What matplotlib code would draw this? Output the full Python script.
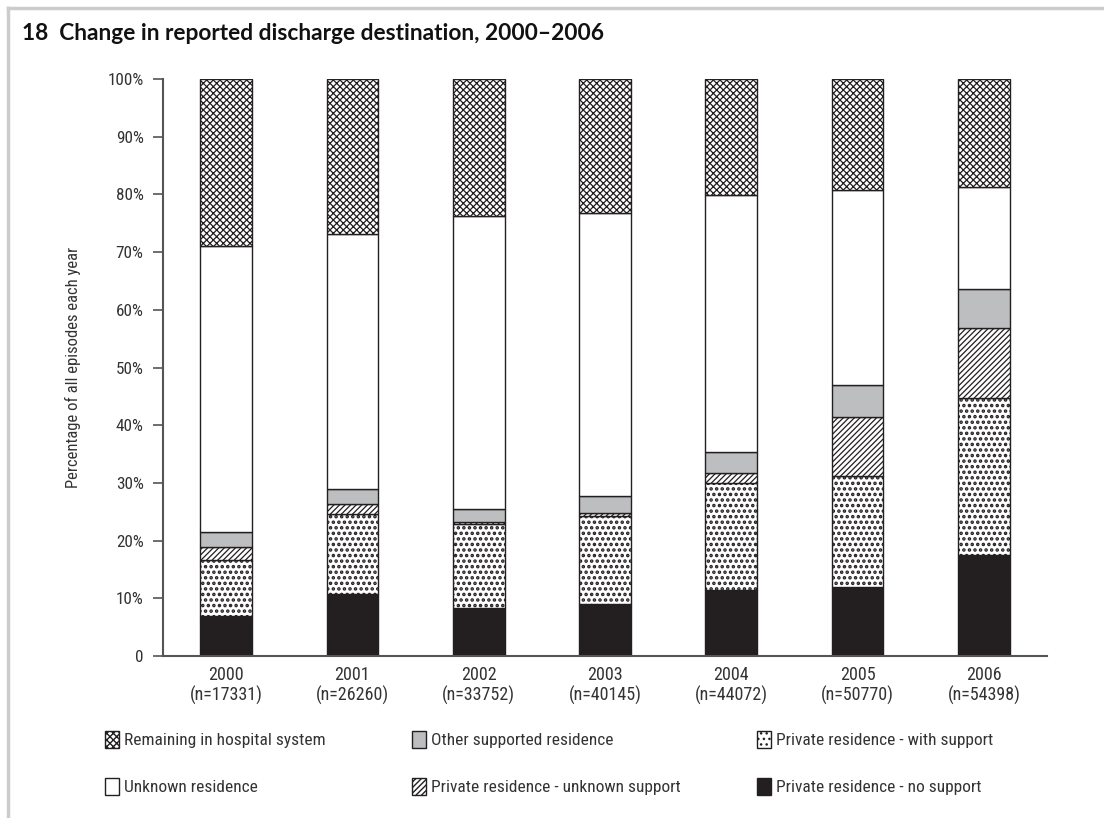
import numpy as np
import matplotlib
matplotlib.use("Agg")
import matplotlib.pyplot as plt
from matplotlib.lines import Line2D

# Data (percent of episodes)
years = ['2000', '2001', '2002', '2003', '2004', '2005', '2006']
n_episodes = [17331, 26260, 33752, 40145, 44072, 50770, 54398]

no_support = [6.9, 10.7, 8.4, 9.0, 11.4, 12.0, 17.5]
with_support = [9.7, 13.9, 14.5, 15.3, 18.6, 19.2, 27.3]
unknown_support = [2.3, 1.7, 0.4, 0.5, 1.7, 10.2, 12.0]
other_supported = [2.6, 2.6, 2.2, 2.9, 3.7, 5.6, 6.8]
unknown_residence = [49.6, 44.2, 50.7, 49.1, 44.5, 33.7, 17.7]
hospital = [28.9, 26.9, 23.8, 23.2, 20.1, 19.3, 18.7]

NARROW = ['Liberation Sans Narrow', 'Roboto Condensed', 'Roboto', 'DejaVu Sans']

# series: (label, values, facecolor, hatch, hatch linewidth) from bottom to top
series = [
    ('Private residence - no support', no_support, '#231f20', None, 0.9),
    ('Private residence - with support', with_support, 'white', '...', 1.7),
    ('Private residence - unknown support', unknown_support, 'white', '//////', 0.9),
    ('Other supported residence', other_supported, '#bcbec0', None, 0.9),
    ('Unknown residence', unknown_residence, 'white', None, 0.9),
    ('Remaining in hospital system', hospital, 'white', 'xxxxx', 0.9),
]

fig = plt.figure(figsize=(11.04, 8.18), dpi=100)
ax = fig.add_axes([163 / 1104, 1 - 656 / 818, 884 / 1104, 577 / 818])

x = np.arange(len(years))
bottom = np.zeros(len(years))
handles = {}
for label, vals, fc, hatch, hlw in series:
    with plt.rc_context({'hatch.linewidth': hlw}):
        bars = ax.bar(x, vals, width=0.41, bottom=bottom, color=fc,
                      edgecolor='#231f20', linewidth=1.0, hatch=hatch, label=label)
    handles[label] = bars
    bottom += np.array(vals)

ax.set_xlim(-0.5, 6.5)
ax.set_ylim(0, 100)
ax.set_yticks(np.arange(0, 101, 10))
ax.set_yticklabels(['0'] + [f'{v}%' for v in range(10, 101, 10)])
ax.set_xticks(x)
ax.set_xticklabels([f'{y}\n(n={n})' for y, n in zip(years, n_episodes)])

for s in ['top', 'right']:
    ax.spines[s].set_visible(False)
for s in ['left', 'bottom']:
    ax.spines[s].set_color('#555555')
    ax.spines[s].set_linewidth(1.5)
ax.tick_params(axis='y', length=7, width=1.2, color='#555555', pad=7)
ax.tick_params(axis='x', length=0, pad=7)
for t in ax.get_yticklabels():
    t.set_fontfamily(NARROW)
    t.set_fontsize(12.3)
    t.set_color('#333333')
for t in ax.get_xticklabels():
    t.set_fontfamily(NARROW)
    t.set_fontsize(13)
    t.set_color('#333333')
    t.set_linespacing(1.12)

ax.set_ylabel('Percentage of all episodes each year', fontfamily=NARROW,
              fontsize=12, color='#333333', labelpad=19)

fig.text(22 / 1104, 1 - 34 / 818, '18  Change in reported discharge destination, 2000\u20132006',
         fontsize=16.4, fontweight='bold', fontfamily=['Lato', 'DejaVu Sans'],
         va='center', ha='left', color='#111111')

# outer frame (top and left lines)
fig.add_artist(Line2D([8 / 1104, 1], [1 - 8 / 818, 1 - 8 / 818], color='#cccccc', lw=2.5))
fig.add_artist(Line2D([8 / 1104, 8 / 1104], [0, 1 - 8 / 818], color='#cccccc', lw=2.5))

# legend: three columns placed separately
columns = [
    (105, ['Remaining in hospital system', 'Unknown residence']),
    (412, ['Other supported residence', 'Private residence - unknown support']),
    (757, ['Private residence - with support', 'Private residence - no support']),
]
for xpx, labels in columns:
    leg = fig.legend([handles[k] for k in labels], labels, ncol=1,
                     loc='upper left', bbox_to_anchor=(xpx / 1104, 1 - 731 / 818),
                     frameon=False, handlelength=0.82, handleheight=1.15,
                     handletextpad=0.3, labelspacing=1.68, borderpad=0,
                     borderaxespad=0, prop={'family': NARROW, 'size': 12.5})
    for t in leg.get_texts():
        t.set_color('#333333')

fig.savefig('out.png', dpi=100)
